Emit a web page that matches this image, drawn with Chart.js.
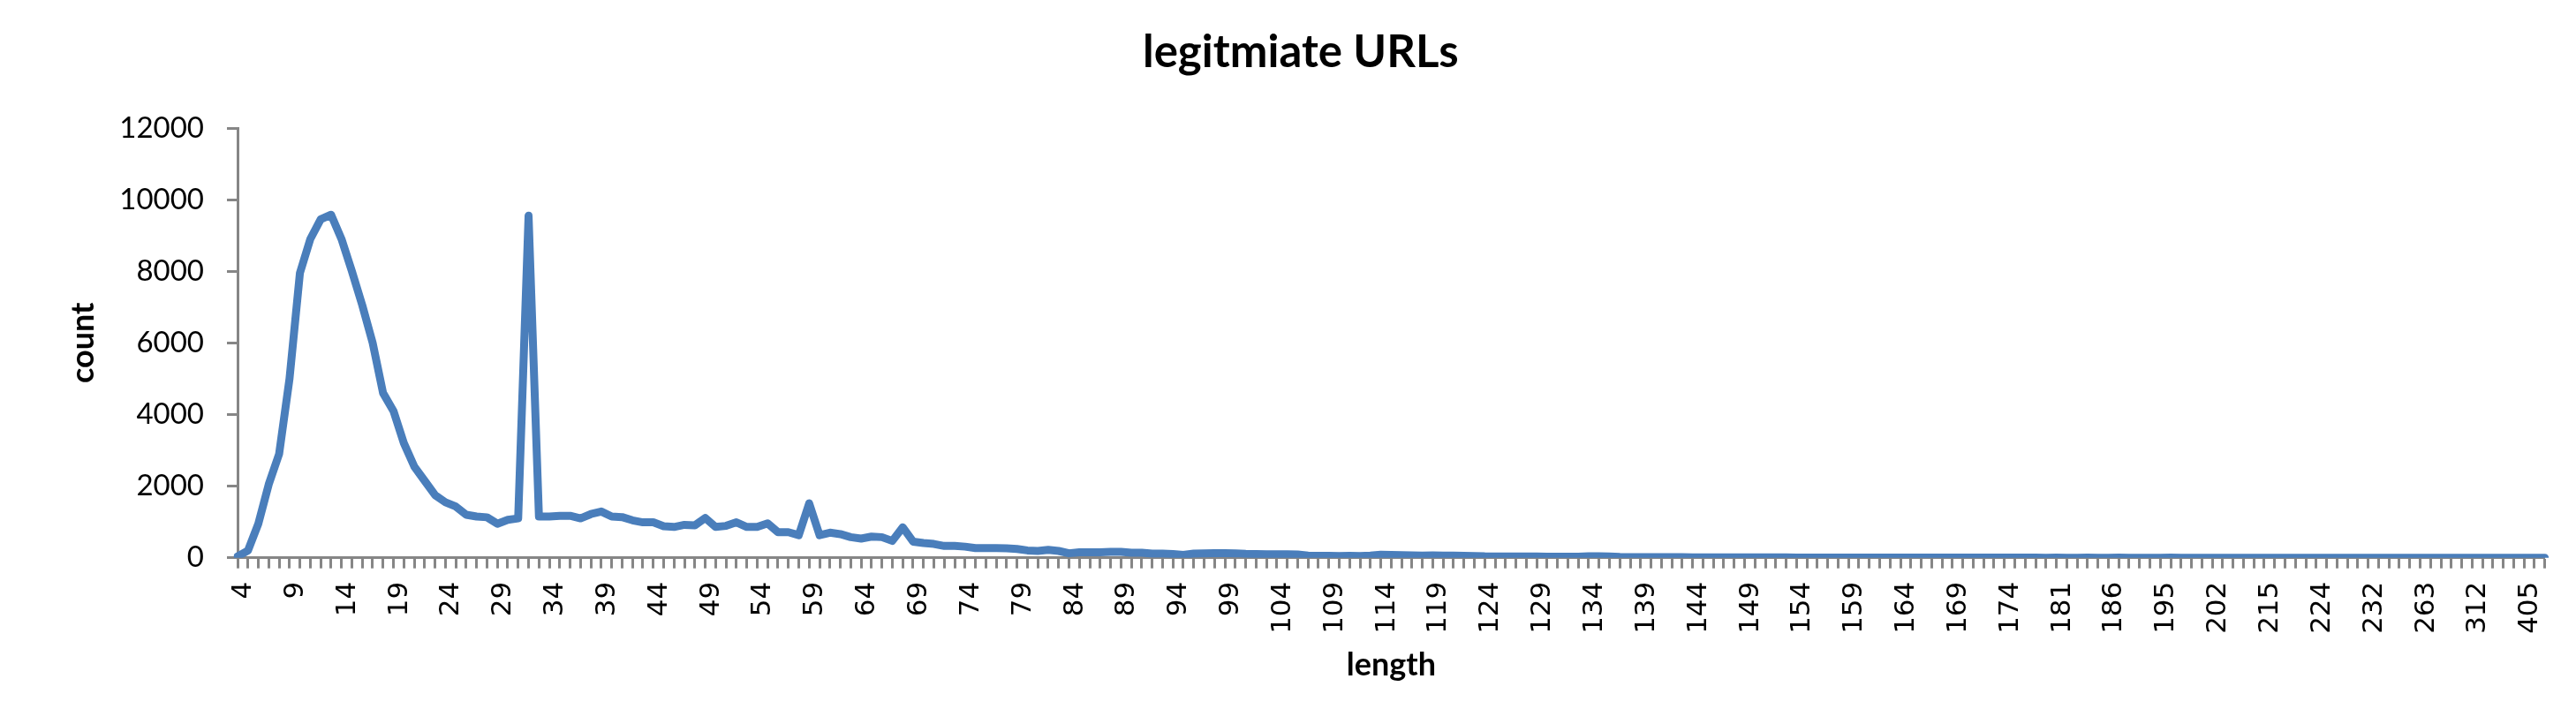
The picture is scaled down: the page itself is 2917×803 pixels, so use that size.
<!DOCTYPE html>
<html>
<head>
<meta charset="utf-8">
<script src="https://cdn.jsdelivr.net/npm/chart.js@4/dist/chart.umd.min.js"></script>
<style>
  html, body { margin: 0; padding: 0; background: #ffffff; }
  #wrap { width: 2917px; height: 803px; }
</style>
</head>
<body>
<div id="wrap"><canvas id="chart"></canvas></div>
<script>
// URL lengths (categories on the x axis)
const lengths = [
  4, 5, 6, 7, 8, 9, 10, 11, 12, 13, 14, 15, 16, 17, 18, 19, 20, 21, 22, 23,
  24, 25, 26, 27, 28, 29, 30, 31, 32, 33, 34, 35, 36, 37, 38, 39, 40, 41, 42, 43,
  44, 45, 46, 47, 48, 49, 50, 51, 52, 53, 54, 55, 56, 57, 58, 59, 60, 61, 62, 63,
  64, 65, 66, 67, 68, 69, 70, 71, 72, 73, 74, 75, 76, 77, 78, 79, 80, 81, 82, 83,
  84, 85, 86, 87, 88, 89, 90, 91, 92, 93, 94, 95, 96, 97, 98, 99, 100, 101, 102, 103,
  104, 105, 106, 107, 108, 109, 110, 111, 112, 113, 114, 115, 116, 117, 118, 119, 120, 121, 122, 123,
  124, 125, 126, 127, 128, 129, 130, 131, 132, 133, 134, 135, 136, 137, 138, 139, 140, 141, 142, 143,
  144, 145, 146, 147, 148, 149, 150, 151, 152, 153, 154, 155, 156, 157, 158, 159, 160, 161, 162, 163,
  164, 165, 166, 167, 168, 169, 170, 171, 172, 173, 174, 175, 176, 177, 179,
  181, 182, 183, 184, 185, 186, 187, 188, 190, 192, 195, 196, 197, 199, 200,
  202, 204, 206, 209, 212, 215, 217, 219, 220, 222, 224, 226, 228, 229, 231,
  232, 236, 241, 247, 255, 263, 270, 281, 290, 301, 312, 330, 350, 366, 384,
  405, 450, 512
];

// number of legitimate URLs of each length
const counts = [
  40, 200, 950, 2050, 2900, 5000, 7950, 8900, 9450, 9580,
  8900, 8000, 7050, 6000, 4600, 4100, 3200, 2550, 2150, 1750,
  1550, 1430, 1200, 1150, 1130, 950, 1060, 1100, 9550, 1150,
  1150, 1170, 1170, 1100, 1220, 1290, 1150, 1135, 1045, 990,
  990, 880, 860, 920, 905, 1110, 860, 890, 990, 860,
  860, 960, 715, 715, 630, 1520, 630, 700, 660, 575,
  535, 590, 575, 470, 850, 450, 410, 385, 330, 330,
  310, 270, 270, 270, 265, 245, 205, 190, 220, 190,
  125, 155, 155, 150, 165, 165, 140, 140, 115, 115,
  105, 80, 115, 120, 130, 130, 125, 110, 105, 100,
  100, 95, 90, 60, 55, 55, 50, 55, 50, 60,
  85, 80, 75, 65, 60, 65, 60, 60, 55, 50,
  40, 38, 36, 35, 34, 33, 32, 30, 30, 28,
  40, 42, 38, 22, 20, 19, 18, 17, 16, 15,
  14, 14, 13, 12, 12, 11, 10, 10, 9, 9,
  8, 8, 7, 7, 7, 6, 6, 6, 5, 5,
  5, 4, 4, 4, 4, 3, 3, 3, 3, 3,
  2, 2, 2, 2, 1, 2, 1, 1, 2, 1,
  1, 2, 1, 1, 1, 1, 2, 1, 1, 1,
  1, 1, 1, 1, 1, 1, 1, 1, 1, 1,
  1, 1, 1, 1, 1, 1, 1, 1, 1, 1,
  1, 1, 1, 1, 1, 1, 1, 1, 1, 1,
  1, 1, 1
];

const yTicks = [0, 2000, 4000, 6000, 8000, 10000, 12000];
const labelEvery = 5;

const axisGrey = '#868686';
const lineBlue = '#4A7EBB';

const ctx = document.getElementById('chart');
new Chart(ctx, {
  type: 'line',
  data: {
    labels: lengths,
    datasets: [{
      label: 'legitmiate URLs',
      data: counts,
      borderColor: lineBlue,
      backgroundColor: lineBlue,
      borderWidth: 9,
      pointRadius: 0,
      tension: 0,
      fill: false,
      borderJoinStyle: 'round',
      borderCapStyle: 'round',
    }],
  },
  options: {
    responsive: true,
    maintainAspectRatio: false,
    devicePixelRatio: 1,
    animation: false,
    layout: { padding: { left: 64, right: 35.3, top: 0, bottom: 0 } },
    plugins: {
      legend: { display: false },
      tooltip: { enabled: false },
      title: {
        display: true,
        text: 'legitmiate URLs',
        color: '#000000',
        font: { family: 'Lato', size: 51, weight: 'bold' },
        padding: { top: 29, bottom: 54.8 },
      },
    },
    scales: {
      x: {
        type: 'category',
        offset: false,
        grid: {
          display: true,
          drawOnChartArea: false,
          drawTicks: true,
          tickLength: 12,
          tickWidth: 3,
          tickColor: axisGrey,
          offset: false,
        },
        border: { display: true, color: axisGrey, width: 3 },
        ticks: {
          autoSkip: false,
          minRotation: 90,
          maxRotation: 90,
          padding: 15,
          labelOffset: 7,
          color: '#000000',
          font: { family: 'DejaVu Sans', size: 31 },
          callback: (val, idx) => (idx % labelEvery === 0 ? String(lengths[idx]) : ''),
        },
        title: {
          display: true,
          text: 'length',
          color: '#000000',
          font: { family: 'Lato', size: 36, weight: 'bold' },
          padding: { top: 0, bottom: 28.4 },
        },
        afterFit: (scale) => {
          scale.height = 171.3;
          scale.paddingLeft = 0;
          scale.paddingRight = 0;
        },
      },
      y: {
        min: 0,
        max: 12000,
        grid: {
          display: true,
          drawOnChartArea: false,
          drawTicks: true,
          tickLength: 12,
          tickWidth: 3,
          tickColor: axisGrey,
        },
        border: { display: true, color: axisGrey, width: 3 },
        afterBuildTicks: (scale) => {
          scale.ticks = yTicks.map(v => ({ value: v }));
        },
        ticks: {
          padding: 26,
          color: '#000000',
          font: { family: 'Lato', size: 33 },
          callback: (v) => String(v),
        },
        title: {
          display: true,
          text: 'count',
          color: '#000000',
          font: { family: 'Lato', size: 36, weight: 'bold' },
          padding: { top: 8.8, bottom: 0 },
        },
        afterFit: (scale) => {
          scale.width = 205;
          scale.paddingTop = 0;
          scale.paddingBottom = 0;
        },
      },
    },
  },
});
</script>
</body>
</html>
